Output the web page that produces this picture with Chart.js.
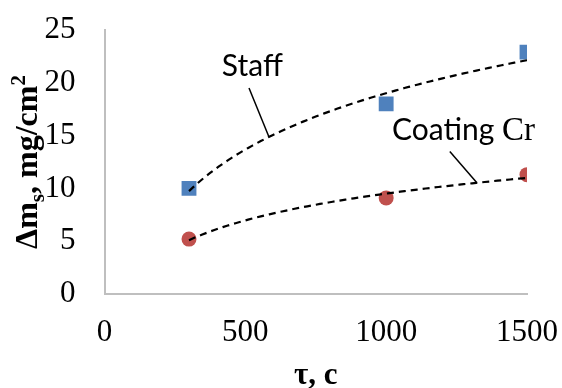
<!DOCTYPE html>
<html>
<head>
<meta charset="utf-8">
<script src="https://cdn.jsdelivr.net/npm/chart.js@4.4.1/dist/chart.umd.min.js"></script>
<style>
  html, body { margin: 0; padding: 0; background: #fff; }
  #wrap { width: 562px; height: 388px; }
</style>
</head>
<body>
<div id="wrap"><canvas id="massChart" width="562" height="388"></canvas></div>
<script>
// exposure time, s
const tau = [300, 1000, 1500];
// mass gain, mg/cm2
const staffMass = [10, 18, 22.9];
const coatingMass = [5.2, 9.1, 11.3];
const xTicks = [0, 500, 1000, 1500];
const yTicks = [0, 5, 10, 15, 20, 25];

const serif = '"Liberation Serif", "Times New Roman", serif';
const sans = 'Lato, "Open Sans", sans-serif';

// least squares fit y = a*ln(x) + b (Excel "logarithmic" trendline)
function logFit(xs, ys) {
  const lx = xs.map(v => Math.log(v));
  const mx = lx.reduce((s, v) => s + v, 0) / lx.length;
  const my = ys.reduce((s, v) => s + v, 0) / ys.length;
  let sxy = 0, sxx = 0;
  lx.forEach((v, i) => { sxy += (v - mx) * (ys[i] - my); sxx += (v - mx) * (v - mx); });
  const a = sxy / sxx;
  const b = my - a * mx;
  return x => a * Math.log(x) + b;
}

function trendPoints(xs, ys) {
  const f = logFit(xs, ys);
  const pts = [];
  const x0 = xs[0], x1 = xs[xs.length - 1];
  for (let i = 0; i <= 80; i++) {
    const x = x0 + (x1 - x0) * i / 80;
    pts.push({ x: x, y: f(x) });
  }
  return pts;
}

const staffFit = logFit(tau, staffMass);
const coatingFit = logFit(tau, coatingMass);

// callout labels: text anchor (baseline), leader start, leader end on the trendline (data units)
const callouts = [
  { parts: [{ t: 'Staff', f: sans, s: 30 }], tx: 525, ty: 20.6, align: 'center',
    lx: 513, ly: 19.5, ex: 584, fit: staffFit },
  { parts: [{ t: 'Coating ', f: sans, s: 30 }, { t: 'Cr', f: serif, s: 33 }], tx: 1021, ty: 14.6, align: 'left',
    lx: 1226, ly: 13.5, ex: 1322, fit: coatingFit }
];

const calloutPlugin = {
  id: 'callouts',
  afterDatasetsDraw(chart) {
    const ctx = chart.ctx;
    const xs = chart.scales.x, ys = chart.scales.y;
    ctx.save();
    ctx.fillStyle = '#000';
    ctx.strokeStyle = '#000';
    ctx.lineWidth = 1.5;
    ctx.textBaseline = 'alphabetic';
    callouts.forEach(c => {
      let total = 0;
      c.parts.forEach(p => { ctx.font = p.s + 'px ' + p.f; total += ctx.measureText(p.t).width; });
      let x = xs.getPixelForValue(c.tx);
      if (c.align === 'center') x -= total / 2;
      const y = ys.getPixelForValue(c.ty);
      ctx.textAlign = 'left';
      c.parts.forEach(p => {
        ctx.font = p.s + 'px ' + p.f;
        ctx.fillText(p.t, x, y);
        x += ctx.measureText(p.t).width;
      });
      ctx.beginPath();
      ctx.moveTo(xs.getPixelForValue(c.lx), ys.getPixelForValue(c.ly));
      ctx.lineTo(xs.getPixelForValue(c.ex), ys.getPixelForValue(c.fit(c.ex)));
      ctx.stroke();
    });
    ctx.restore();
  }
};

// axis titles with sub/superscripts
const titlePlugin = {
  id: 'axisTitles',
  afterDraw(chart) {
    const ctx = chart.ctx;
    const area = chart.chartArea;
    ctx.save();
    ctx.fillStyle = '#000';
    ctx.textBaseline = 'alphabetic';
    ctx.textAlign = 'left';

    // x title
    ctx.font = 'bold 31px ' + serif;
    const xt = '\u03c4, c';
    const xw = ctx.measureText(xt).width;
    ctx.fillText(xt, (area.left + area.right) / 2 - xw / 2, 384);

    // y title, rotated
    const pieces = [
      { t: '\u0394m', s: 32, dy: 0 },
      { t: 's', s: 21, dy: 7 },
      { t: ', mg/cm', s: 32, dy: 0 },
      { t: '2', s: 21, dy: -12 }
    ];
    let total = 0;
    pieces.forEach(p => { ctx.font = 'bold ' + p.s + 'px ' + serif; total += ctx.measureText(p.t).width; });
    ctx.translate(37, 162);
    ctx.rotate(-Math.PI / 2);
    let x = -total / 2;
    pieces.forEach(p => {
      ctx.font = 'bold ' + p.s + 'px ' + serif;
      ctx.fillText(p.t, x, p.dy);
      x += ctx.measureText(p.t).width;
    });
    ctx.restore();
  }
};

const ctx = document.getElementById('massChart').getContext('2d');
const massChart = new Chart(ctx, {
  type: 'scatter',
  data: {
    datasets: [
      {
        type: 'line',
        data: trendPoints(tau, staffMass),
        borderColor: '#000',
        borderWidth: 2.2,
        borderDash: [7, 5],
        pointRadius: 0,
        fill: false
      },
      {
        type: 'line',
        data: trendPoints(tau, coatingMass),
        borderColor: '#000',
        borderWidth: 2.2,
        borderDash: [7, 5],
        pointRadius: 0,
        fill: false
      },
      {
        label: 'Staff',
        data: tau.map((t, i) => ({ x: t, y: staffMass[i] })),
        pointStyle: 'rect',
        pointRadius: 10.5,
        backgroundColor: '#4f81bd',
        borderColor: '#4f81bd',
        borderWidth: 0
      },
      {
        label: 'Coating Cr',
        data: tau.map((t, i) => ({ x: t, y: coatingMass[i] })),
        pointStyle: 'circle',
        pointRadius: 7.5,
        backgroundColor: '#c0504d',
        borderColor: '#c0504d',
        borderWidth: 0
      }
    ]
  },
  options: {
    responsive: false,
    animation: false,
    layout: { padding: { left: 0, top: 30, right: 35, bottom: 0 } },
    plugins: {
      legend: { display: false },
      tooltip: { enabled: false }
    },
    scales: {
      x: {
        type: 'linear',
        min: 0,
        max: 1500,
        afterBuildTicks: scale => { scale.ticks = xTicks.map(v => ({ value: v })); },
        afterFit: scale => {
          scale.height = 94;
          scale.paddingLeft = 0;
          scale.paddingRight = 0;
        },
        grid: { display: false, drawTicks: false },
        border: { color: '#bfbfbf', width: 2 },
        ticks: {
          color: '#000',
          padding: 20,
          maxRotation: 0,
          callback: v => String(v),
          font: { family: serif, size: 31 }
        }
      },
      y: {
        min: 0,
        max: 25,
        afterBuildTicks: scale => { scale.ticks = yTicks.map(v => ({ value: v })); },
        afterFit: scale => {
          scale.width = 104.5;
          scale.paddingTop = 0;
          scale.paddingBottom = 0;
        },
        grid: { display: false, drawTicks: false },
        border: { color: '#bfbfbf', width: 2 },
        ticks: {
          color: '#000',
          padding: 29,
          callback: v => String(v),
          font: { family: serif, size: 31 }
        }
      }
    }
  },
  plugins: [calloutPlugin, titlePlugin]
});
</script>
</body>
</html>
